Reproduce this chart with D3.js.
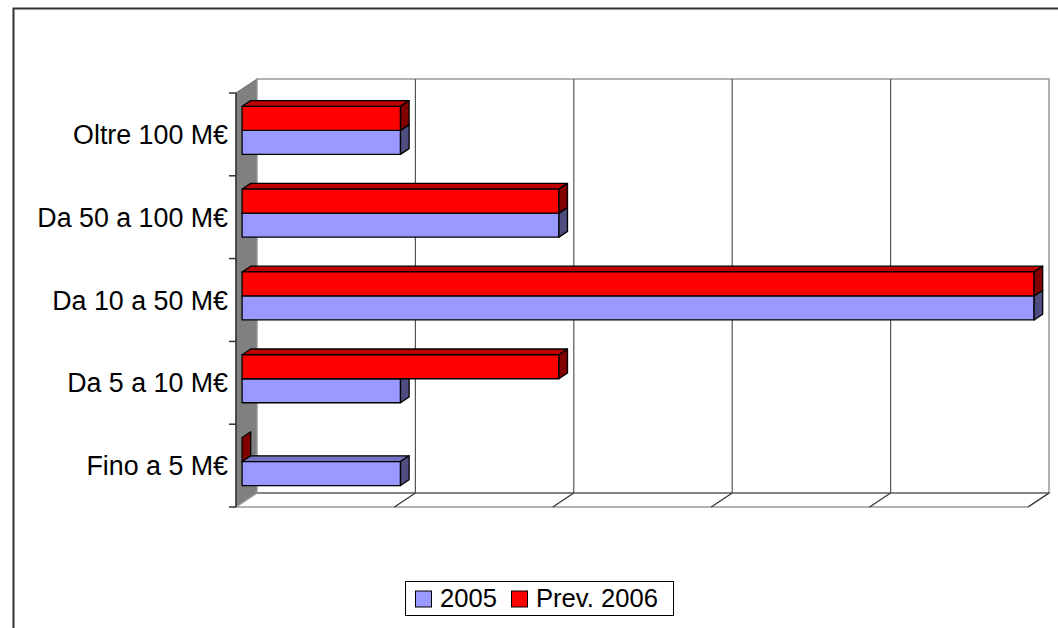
<!DOCTYPE html>
<html>
<head>
<meta charset="utf-8">
<script src="https://cdn.jsdelivr.net/npm/d3@7/dist/d3.min.js"></script>
<style>
html,body{margin:0;padding:0;background:#fff;}
svg{display:block;}
text{font-family:"Liberation Sans",Arial,sans-serif;fill:#000;}
</style>
</head>
<body>
<svg id="chart" width="1058" height="628"></svg>
<script>
// ---- data ----
const categories = ["Fino a 5 M€", "Da 5 a 10 M€", "Da 10 a 50 M€", "Da 50 a 100 M€", "Oltre 100 M€"];
const values2005 = [1, 1, 5, 2, 1];
const valuesPrev2006 = [0, 2, 5, 2, 1];
const seriesNames = ["2005", "Prev. 2006"];
const xTickValues = [0, 1, 2, 3, 4, 5];

// ---- layout ----
const svg = d3.select("#chart");
const FX = 236, FY = 93, W = 792, H = 414;   // front plane of plot box
const DX = 21, DY = -14;                      // depth vector
const t0 = 0.29, t1 = 0.70;                   // bar depth span

const colors = {
  "2005": {front: "#9999FF", top: "#7373BF", side: "#4D4D80"},
  "Prev. 2006": {front: "#FF0000", top: "#BF0000", side: "#800000"}
};

const x = d3.scaleLinear().domain([0, 5]).range([0, W]);
const y = d3.scaleBand().domain(categories.slice().reverse()).range([0, H])
  .paddingInner(0.42).paddingOuter(0.21);
const inner = d3.scaleBand().domain(["Prev. 2006", "2005"]).range([0, y.bandwidth()]);
const band = d3.scaleBand().domain(categories.slice().reverse()).range([0, H]);

// outer chart border
svg.append("path").attr("d", "M13.5,628 L13.5,8.5 L1058,8.5")
  .attr("fill", "none").attr("stroke", "#333").attr("stroke-width", 2);

// side (left) wall
svg.append("polygon")
  .attr("points", [[FX, FY], [FX + DX, FY + DY], [FX + DX, FY + H + DY], [FX, FY + H]].join(" "))
  .attr("fill", "#808080").attr("stroke", "#666").attr("stroke-width", 1);

// back wall
svg.append("rect").attr("x", FX + DX).attr("y", FY + DY).attr("width", W).attr("height", H)
  .attr("fill", "#fff").attr("stroke", "#999").attr("stroke-width", 1.5);

// floor
svg.append("polygon")
  .attr("points", [[FX, FY + H], [FX + DX, FY + H + DY], [FX + DX + W, FY + H + DY], [FX + W, FY + H]].join(" "))
  .attr("fill", "#fff").attr("stroke", "#999").attr("stroke-width", 1.5);
svg.append("line").attr("x1", FX + DX).attr("x2", FX + DX + W)
  .attr("y1", FY + H + DY).attr("y2", FY + H + DY).attr("stroke", "#777").attr("stroke-width", 1.5);

// gridlines (back wall + floor)
const grid = svg.append("g");
xTickValues.filter(v => v > 0 && v < 5).forEach(v => {
  grid.append("line").attr("x1", FX + DX + x(v)).attr("x2", FX + DX + x(v))
    .attr("y1", FY + DY).attr("y2", FY + H + DY).attr("stroke", "#555").attr("stroke-width", 1.2);
});
xTickValues.filter(v => v > 0).forEach(v => {
  grid.append("line").attr("x1", FX + x(v)).attr("y1", FY + H)
    .attr("x2", FX + DX + x(v)).attr("y2", FY + H + DY).attr("stroke", "#333").attr("stroke-width", 1.2);
});

// category axis line & ticks
svg.append("line").attr("x1", FX).attr("x2", FX).attr("y1", FY).attr("y2", FY + H)
  .attr("stroke", "#333").attr("stroke-width", 1.5);
svg.append("line").attr("x1", FX - 7).attr("x2", FX).attr("y1", FY + H).attr("y2", FY + H)
  .attr("stroke", "#333").attr("stroke-width", 1.5);
categories.forEach(c => {
  svg.append("line").attr("x1", FX - 7).attr("x2", FX).attr("y1", FY + band(c)).attr("y2", FY + band(c))
    .attr("stroke", "#333").attr("stroke-width", 1.5);
});

// bars
const bx = FX + DX * t0, by = FY + DY * t0;
const ddx = DX * (t1 - t0), ddy = DY * (t1 - t0);
const bars = svg.append("g").attr("stroke", "#000").attr("stroke-width", 1.3).attr("stroke-linejoin", "round");
const seriesData = {"2005": values2005, "Prev. 2006": valuesPrev2006};
categories.forEach((c, i) => {
  ["2005", "Prev. 2006"].forEach(s => {
    const v = seriesData[s][i];
    const x0 = bx, x1 = bx + x(v);
    const yt = by + y(c) + inner(s), yb = yt + inner.bandwidth();
    const col = colors[s];
    if (v > 0) {
      bars.append("polygon").attr("points", [[x0, yt], [x0 + ddx, yt + ddy], [x1 + ddx, yt + ddy], [x1, yt]].join(" "))
        .attr("fill", col.top);
      bars.append("rect").attr("x", x0).attr("y", yt).attr("width", x1 - x0).attr("height", yb - yt)
        .attr("fill", col.front);
    }
    bars.append("polygon").attr("points", [[x1, yt], [x1 + ddx, yt + ddy], [x1 + ddx, yb + ddy], [x1, yb]].join(" "))
      .attr("fill", col.side);
  });
});

// category labels
svg.append("g").selectAll("text").data(categories).join("text")
  .attr("x", 228).attr("y", d => FY + band(d) + band.bandwidth() / 2)
  .attr("dy", "0.36em").attr("text-anchor", "end")
  .attr("font-size", "26.8px").text(d => d);

// legend
const lg = svg.append("g");
lg.append("rect").attr("x", 405.5).attr("y", 581.5).attr("width", 268).attr("height", 34)
  .attr("fill", "#fff").attr("stroke", "#000").attr("stroke-width", 1);
const legendPos = [{sq: 415.5, tx: 440}, {sq: 511.5, tx: 536}];
seriesNames.forEach((s, i) => {
  lg.append("rect").attr("x", legendPos[i].sq).attr("y", 591).attr("width", 16).attr("height", 16)
    .attr("fill", colors[s].front).attr("stroke", "#000").attr("stroke-width", 1);
  lg.append("text").attr("x", legendPos[i].tx).attr("y", 606.5).attr("font-size", "25.6px").text(s);
});
</script>
</body>
</html>
